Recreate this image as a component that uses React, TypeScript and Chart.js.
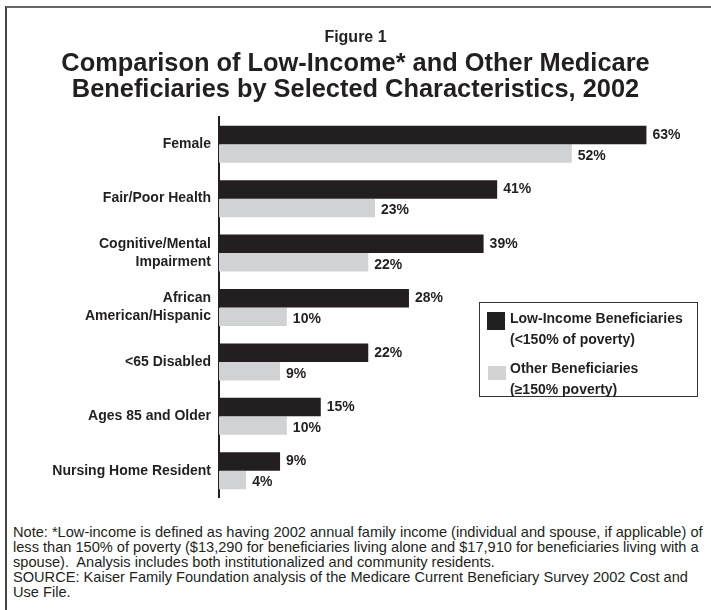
import React, { useEffect, useRef } from "react";
import { Chart, registerables } from "chart.js";

Chart.register(...registerables);

const SANS = "'Liberation Sans', Arial, Helvetica, sans-serif";

const figureLabel = "Figure 1";
const titleLines = [
  "Comparison of Low-Income* and Other Medicare",
  "Beneficiaries by Selected Characteristics, 2002",
];
const categories: string[][] = [
  ["Female"],
  ["Fair/Poor Health"],
  ["Cognitive/Mental", "Impairment"],
  ["African", "American/Hispanic"],
  ["<65 Disabled"],
  ["Ages 85 and Older"],
  ["Nursing Home Resident"],
];
const lowIncome = [63, 41, 39, 28, 22, 15, 9];
const otherBeneficiaries = [52, 23, 22, 10, 9, 10, 4];
const seriesNames = ["Low-Income Beneficiaries", "Other Beneficiaries"];
const seriesSubNames = ["(<150% of poverty)", "(\u2265150% poverty)"];
const noteLines = [
  "Note: *Low-income is defined as having 2002 annual family income (individual and spouse, if applicable) of",
  "less than 150% of poverty ($13,290 for beneficiaries living alone and $17,910 for beneficiaries living with a",
  "spouse).  Analysis includes both institutionalized and community residents.",
  "SOURCE: Kaiser Family Foundation analysis of the Medicare Current Beneficiary Survey 2002 Cost and",
  "Use File.",
];

const DARK = "#231f20";
const LIGHT = "#d1d2d4";

const valueLabels = {
  id: "valueLabels",
  afterDatasetsDraw(chart: any) {
    const ctx = chart.ctx;
    ctx.save();
    ctx.font = `bold 14px ${SANS}`;
    ctx.fillStyle = DARK;
    ctx.textBaseline = "middle";
    ctx.textAlign = "left";
    chart.data.datasets.forEach((ds: any, i: number) => {
      const meta = chart.getDatasetMeta(i);
      meta.data.forEach((bar: any, j: number) => {
        ctx.fillText(`${ds.data[j]}%`, bar.x + 6, bar.y + (i === 1 ? 2.5 : 0));
      });
    });
    ctx.restore();
  },
};

const legendBox = {
  id: "legendBox",
  afterDraw(chart: any) {
    const ctx = chart.ctx;
    ctx.save();
    ctx.strokeStyle = "#333";
    ctx.lineWidth = 1;
    ctx.strokeRect(479.5, 302.5, 218, 94);
    ctx.fillStyle = DARK;
    ctx.fillRect(487, 312, 18, 18);
    ctx.fillStyle = LIGHT;
    ctx.fillRect(488, 366, 18, 14);
    ctx.fillStyle = DARK;
    ctx.font = `bold 14px ${SANS}`;
    ctx.textBaseline = "middle";
    ctx.textAlign = "left";
    ctx.fillText(seriesNames[0], 510, 319);
    ctx.fillText(seriesSubNames[0], 510, 340);
    ctx.fillText(seriesNames[1], 510, 369);
    ctx.fillText(seriesSubNames[1], 510, 390);
    ctx.restore();
  },
};

export default function App() {
  const ref = useRef<HTMLCanvasElement | null>(null);

  useEffect(() => {
    if (!ref.current) return;
    const chart = new Chart(ref.current, {
      type: "bar",
      data: {
        labels: categories,
        datasets: [
          {
            label: seriesNames[0],
            data: lowIncome,
            backgroundColor: DARK,
            categoryPercentage: 0.68,
            barPercentage: 1.0,
          },
          {
            label: seriesNames[1],
            data: otherBeneficiaries,
            backgroundColor: LIGHT,
            categoryPercentage: 0.68,
            barPercentage: 1.0,
          },
        ],
      },
      options: {
        indexAxis: "y",
        animation: false,
        responsive: false,
        maintainAspectRatio: false,
        layout: { padding: { top: 117, bottom: 7, left: 0, right: 51 } },
        plugins: {
          legend: { display: false },
          title: { display: false },
          tooltip: { enabled: false },
        },
        scales: {
          x: { display: false, min: 0, max: 65 },
          y: {
            grid: { display: false, drawTicks: false },
            border: { display: true, color: DARK, width: 2 },
            ticks: {
              color: DARK,
              padding: 8,
              font: { family: SANS, size: 14, weight: "bold", lineHeight: 1.29 },
            },
            afterFit(scale: any) {
              scale.width = 219;
            },
          },
        },
      },
      plugins: [valueLabels, legendBox],
    });
    return () => chart.destroy();
  }, []);

  return (
    <div style={{ position: "absolute", left: 0, top: 0, width: 711, height: 610, background: "#fff", overflow: "hidden" }}>
      <div
        style={{
          position: "absolute",
          left: 5,
          top: 6,
          width: 760,
          height: 660,
          borderTop: "2px solid #666",
          borderLeft: "2px solid #444",
          boxSizing: "border-box",
        }}
      />
      <canvas ref={ref} width={711} height={515} style={{ position: "absolute", left: 0, top: 0, width: 711, height: 515 }} />
      <div
        style={{
          position: "absolute",
          left: 0,
          width: 711,
          top: 29,
          height: 16,
          textAlign: "center",
          fontFamily: SANS,
          fontWeight: "bold",
          fontSize: 16,
          lineHeight: "16px",
          color: DARK,
        }}
      >
        {figureLabel}
      </div>
      {titleLines.map((t, i) => (
        <div
          key={i}
          style={{
            position: "absolute",
            left: 0,
            width: 711,
            top: 62 + i * 26 - 13,
            height: 26,
            lineHeight: "26px",
            textAlign: "center",
            fontFamily: SANS,
            fontWeight: "bold",
            fontSize: 25.4,
            color: DARK,
            whiteSpace: "nowrap",
          }}
        >
          {t}
        </div>
      ))}
      {noteLines.map((t, i) => (
        <div
          key={i}
          style={{
            position: "absolute",
            left: 13,
            top: 532 + i * 15 - 8,
            height: 16,
            lineHeight: "16px",
            fontFamily: SANS,
            fontSize: 14.6,
            color: DARK,
            whiteSpace: "pre",
          }}
        >
          {t}
        </div>
      ))}
    </div>
  );
}
